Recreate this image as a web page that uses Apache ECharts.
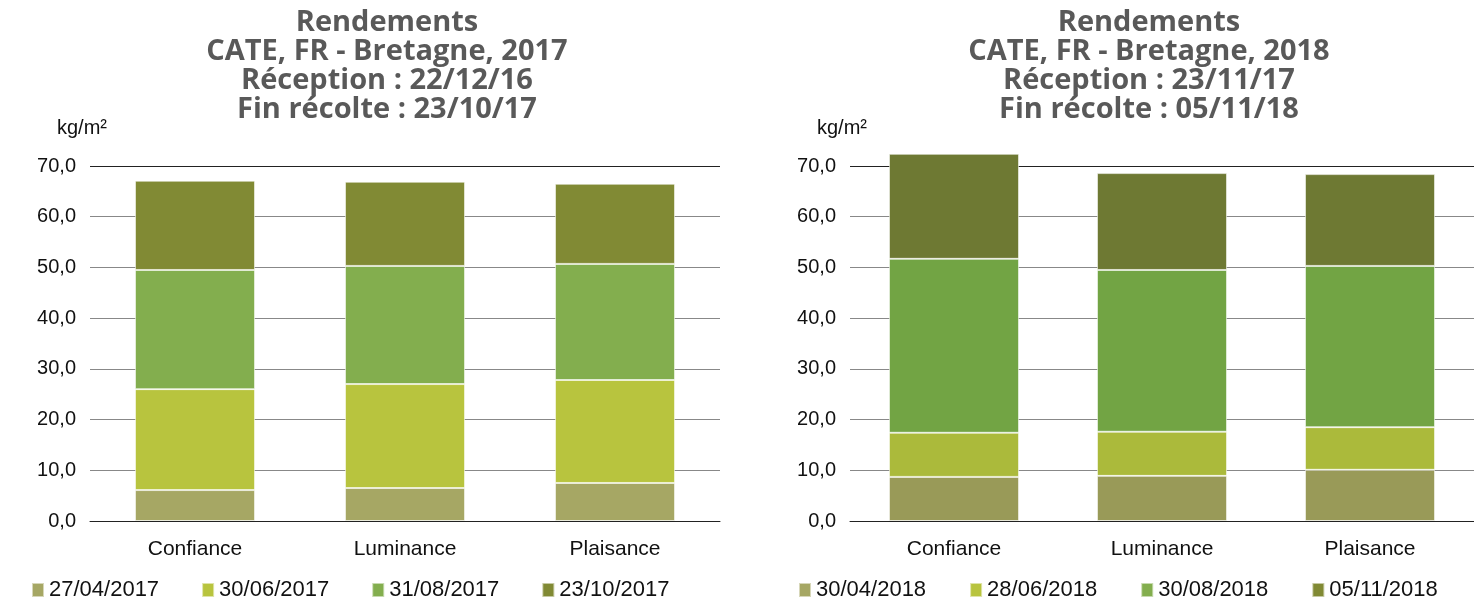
<!DOCTYPE html>
<html>
<head>
<meta charset="utf-8">
<script src="https://cdn.jsdelivr.net/npm/echarts@6/dist/echarts.min.js"></script>
<style>
  html, body { margin: 0; padding: 0; background: #fff; }
  #chart { width: 1474px; height: 602px; }
</style>
</head>
<body>
<div id="chart"></div>
<script>
// categories (variétés)
var categories = ["Confiance", "Luminance", "Plaisance"];

// 2017 : dates de récolte et rendement par période (kg/m2)
var dates2017 = ["27/04/2017", "30/06/2017", "31/08/2017", "23/10/2017"];
var y2017_p1 = [6.1, 6.5, 7.5];
var y2017_p2 = [19.9, 20.5, 20.3];
var y2017_p3 = [23.5, 23.3, 22.9];
var y2017_p4 = [17.6, 16.6, 15.8];

// 2018
var dates2018 = ["30/04/2018", "28/06/2018", "30/08/2018", "05/11/2018"];
var y2018_p1 = [8.7, 8.9, 10.1];
var y2018_p2 = [8.7, 8.7, 8.4];
var y2018_p3 = [34.3, 31.9, 31.8];
var y2018_p4 = [20.7, 19.1, 18.1];

var yTicks = [0, 10, 20, 30, 40, 50, 60, 70];

var colors2017 = ["#A6A764", "#B8C43E", "#83AE4E", "#818A34"];
var colors2018 = ["#999A58", "#ABBA3B", "#72A444", "#6E7933"];

var myChart = echarts.init(document.getElementById("chart"));

var titleStyle = {
  fontFamily: "Open Sans",
  fontWeight: "bold",
  fontSize: 29,
  lineHeight: 29,
  color: "#595959"
};
var labelFont = { fontFamily: "Liberation Sans", fontSize: 22, color: "#111" };

function yAxisOf(gridIndex) {
  return {
    type: "value",
    gridIndex: gridIndex,
    min: yTicks[0],
    max: yTicks[yTicks.length - 1],
    interval: 10,
    name: "kg/m²",
    nameLocation: "end",
    nameGap: 28,
    nameTextStyle: { fontFamily: "Liberation Sans", fontSize: 20, color: "#111", padding: [0, 16, 0, 0] },
    axisLine: { show: false },
    axisTick: { show: false },
    axisLabel: {
      margin: 14,
      fontFamily: "Liberation Sans",
      fontSize: 20,
      color: "#111",
      formatter: function (v) { return v.toFixed(1).replace(".", ","); }
    },
    splitLine: {
      lineStyle: {
        width: 1,
        color: ["#222", "#888", "#888", "#888", "#888", "#888", "#888", "#222"]
      }
    }
  };
}

function xAxisOf(gridIndex) {
  return {
    type: "category",
    gridIndex: gridIndex,
    data: categories,
    axisLine: { show: true, lineStyle: { color: "#222", width: 1 } },
    axisTick: { show: false },
    axisLabel: { margin: 18, fontFamily: "Liberation Sans", fontSize: 21, color: "#111" }
  };
}

function barSeries(name, data, color, idx, stack, width) {
  return {
    name: name,
    type: "bar",
    stack: stack,
    xAxisIndex: idx,
    yAxisIndex: idx,
    barWidth: width,
    clip: false,
    itemStyle: { color: color, borderColor: "rgba(255,255,255,0.55)", borderWidth: 1 },
    data: data
  };
}

var s2017 = [y2017_p1, y2017_p2, y2017_p3, y2017_p4];
var s2018 = [y2018_p1, y2018_p2, y2018_p3, y2018_p4];
var series = [];
for (var i = 0; i < 4; i++) {
  series.push(barSeries(dates2017[i], s2017[i], colors2017[i], 0, "a", 120));
}
for (var j = 0; j < 4; j++) {
  series.push(barSeries(dates2018[j], s2018[j], colors2018[j], 1, "b", 130));
}

myChart.setOption({
  animation: false,
  title: [
    {
      text: "Rendements\nCATE, FR - Bretagne, 2017\nRéception : 22/12/16\nFin récolte : 23/10/17",
      left: 387, top: 8, textAlign: "center", padding: 0,
      textStyle: titleStyle
    },
    {
      text: "Rendements\nCATE, FR - Bretagne, 2018\nRéception : 23/11/17\nFin récolte : 05/11/18",
      left: 1149, top: 8, textAlign: "center", padding: 0,
      textStyle: titleStyle
    }
  ],
  legend: [
    {
      left: 26, top: 574, itemWidth: 12, itemHeight: 14, itemGap: 42,
      icon: "rect",
      textStyle: labelFont,
      data: dates2017.map(function (d, k) { return { name: d, itemStyle: { color: colors2017[k] } }; })
    },
    {
      left: 793, top: 574, itemWidth: 12, itemHeight: 14, itemGap: 43,
      icon: "rect",
      textStyle: labelFont,
      data: dates2018.map(function (d, k) { return { name: d, itemStyle: { color: colors2017[k] } }; })
    }
  ],
  grid: [
    { left: 90, top: 166, width: 630, height: 355 },
    { left: 850, top: 166, width: 624, height: 355 }
  ],
  xAxis: [xAxisOf(0), xAxisOf(1)],
  yAxis: [yAxisOf(0), yAxisOf(1)],
  series: series
});

window.addEventListener("resize", function () {
  myChart.resize();
});
</script>
</body>
</html>
